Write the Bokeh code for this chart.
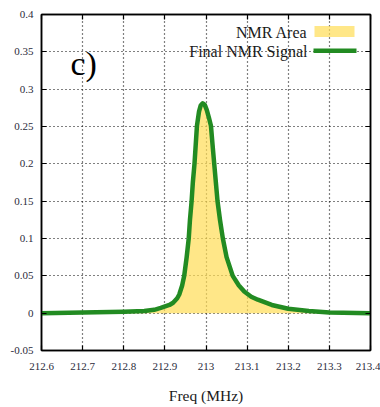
from bokeh.plotting import figure
from bokeh.models import (LinearAxis, FixedTicker, Range1d, Label, BoxAnnotation)
from bokeh.embed import file_html
from bokeh.resources import INLINE

# ---- data ----
freq = [212.60, 212.70, 212.80, 212.85, 212.874, 212.89, 212.911, 212.92, 212.93,
        212.935, 212.942, 212.947, 212.953, 212.958, 212.961, 212.965, 212.968,
        212.972, 212.978, 212.983, 212.987, 212.992, 212.997, 213.002, 213.007,
        213.012, 213.016, 213.020, 213.024, 213.028, 213.034, 213.041, 213.050,
        213.065, 213.080, 213.093, 213.110, 213.126, 213.160, 213.200, 213.250,
        213.300, 213.400]
signal = [0.000, 0.001, 0.002, 0.003, 0.0045, 0.007, 0.011, 0.014, 0.020,
          0.025, 0.037, 0.050, 0.075, 0.100, 0.125, 0.150, 0.175,
          0.200, 0.251, 0.270, 0.278, 0.281, 0.279, 0.272, 0.262,
          0.251, 0.225, 0.200, 0.175, 0.150, 0.125, 0.100, 0.075,
          0.050, 0.037, 0.029, 0.022, 0.018, 0.011, 0.006, 0.003,
          0.001, 0.000]
zero = [0.0] * len(freq)

x_ticks = [212.6, 212.7, 212.8, 212.9, 213.0, 213.1, 213.2, 213.3, 213.4]
x_labels = ["212.6", "212.7", "212.8", "212.9", "213", "213.1", "213.2", "213.3", "213.4"]
y_ticks = [-0.05, 0.0, 0.05, 0.1, 0.15, 0.2, 0.25, 0.3, 0.35, 0.4]
y_labels = ["-0.05", "0", "0.05", "0.1", "0.15", "0.2", "0.25", "0.3", "0.35", "0.4"]

legend_labels = ["NMR Area", "Final NMR Signal"]
panel_tag = "c)"
x_title = "Freq (MHz)"

FONT = "Liberation Serif"
FILL = "#FFDD55"
GREEN = "#228B22"
LABEL_COLOR = "#2b2b3b"

W, H = 380, 407
L, R, T, B = 41, 10, 14, 57
frame_h = H - T - B

p = figure(width=W, height=H, output_backend="svg", toolbar_location=None,
           x_range=Range1d(212.6, 213.4), y_range=Range1d(-0.05, 0.4),
           min_border_left=L, min_border_right=R, min_border_top=T,
           min_border_bottom=B)
p.background_fill_color = "white"
p.border_fill_color = "white"
p.outline_line_color = "black"
p.outline_line_width = 1.5

p.varea(x=freq, y1=zero, y2=signal, fill_color=FILL, fill_alpha=0.7)
p.line(x=freq, y=signal, line_color=GREEN, line_width=4.5, line_join="round")

# axes
for ax, ticks, labels in ((p.xaxis[0], x_ticks, x_labels), (p.yaxis[0], y_ticks, y_labels)):
    ax.ticker = FixedTicker(ticks=ticks)
    ax.major_label_overrides = {t: l for t, l in zip(ticks, labels)}
    ax.major_tick_in = 5
    ax.major_tick_out = 0
    ax.minor_tick_line_color = None
    ax.axis_line_color = "black"
    ax.axis_line_width = 1.5
    ax.major_tick_line_color = "black"
    ax.major_tick_line_width = 1.2
    ax.major_label_text_font = FONT
    ax.major_label_text_font_size = "11px"
    ax.major_label_text_color = LABEL_COLOR

p.xaxis[0].major_label_standoff = 12
p.yaxis[0].major_label_standoff = 8
p.xaxis[0].axis_label = x_title
p.xaxis[0].axis_label_text_font = FONT
p.xaxis[0].axis_label_text_font_style = "normal"
p.xaxis[0].axis_label_text_font_size = "15.5px"
p.xaxis[0].axis_label_text_color = "#1a1a1a"
p.xaxis[0].axis_label_standoff = 14

for loc, ticks in (("right", y_ticks), ("above", x_ticks)):
    ax = LinearAxis(ticker=FixedTicker(ticks=ticks))
    ax.major_label_overrides = {t: "" for t in ticks}
    ax.major_label_text_color = None
    ax.major_label_standoff = 0
    ax.major_tick_in = 5
    ax.major_tick_out = 0
    ax.minor_tick_line_color = None
    ax.axis_line_color = "black"
    ax.axis_line_width = 1.5
    ax.major_tick_line_color = "black"
    ax.major_tick_line_width = 1.2
    p.add_layout(ax, loc)

# grid
for g in (p.xgrid[0], p.ygrid[0]):
    g.grid_line_color = "black"
    g.grid_line_dash = "1 3"
    g.grid_line_width = 1.2
    g.grid_line_alpha = 1.0
p.xgrid[0].ticker = FixedTicker(ticks=x_ticks)
p.ygrid[0].ticker = FixedTicker(ticks=y_ticks)

# panel tag (screen units are relative to the frame)
p.add_layout(Label(x=70 - L, y=frame_h - (63 - T), x_units="screen", y_units="screen",
                   text=panel_tag, text_font=FONT, text_font_size="34px",
                   text_color="black", text_baseline="alphabetic"))

# custom legend (text right, swatch on the right)
p.add_layout(Label(x=307 - L, y=frame_h - (31.5 - T), x_units="screen", y_units="screen",
                   text=legend_labels[0], text_font=FONT, text_font_size="16px",
                   text_align="right", text_baseline="middle", text_color="#1a1a1a"))
p.add_layout(Label(x=307 - L, y=frame_h - (50.5 - T), x_units="screen", y_units="screen",
                   text=legend_labels[1], text_font=FONT, text_font_size="16px",
                   text_align="right", text_baseline="middle", text_color="#1a1a1a"))
p.add_layout(BoxAnnotation(left=314 - L, right=354 - L,
                           top=frame_h - (25.5 - T), bottom=frame_h - (36.5 - T),
                           left_units="screen", right_units="screen",
                           top_units="screen", bottom_units="screen",
                           fill_color=FILL, fill_alpha=0.7, line_color=None))
p.add_layout(BoxAnnotation(left=313 - L, right=356 - L,
                           top=frame_h - (48 - T), bottom=frame_h - (52.5 - T),
                           left_units="screen", right_units="screen",
                           top_units="screen", bottom_units="screen",
                           fill_color=GREEN, fill_alpha=1.0, line_color=None))

open("out.html", "w").write(file_html(p, INLINE))
